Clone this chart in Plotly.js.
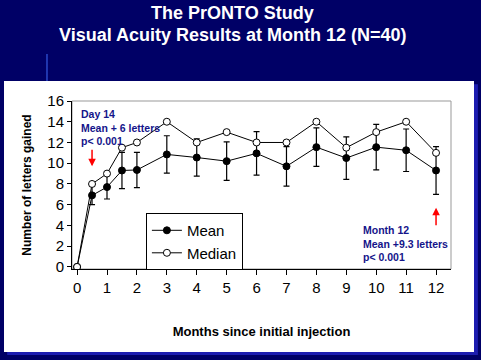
<!DOCTYPE html>
<html>
<head>
<meta charset="utf-8">
<script src="https://cdn.plot.ly/plotly-3.0.1.min.js"></script>
<style>html,body{margin:0;padding:0;background:#000066;}#chart{width:481px;height:360px;}</style>
</head>
<body>
<div id="chart"></div>
<script>
// Data
var months = [0, 0.5, 1, 1.5, 2, 3, 4, 5, 6, 7, 8, 9, 10, 11, 12];
var meanGain = [0, 6.9, 7.7, 9.3, 9.35, 10.85, 10.55, 10.2, 10.95, 9.7, 11.55, 10.5, 11.55, 11.25, 9.3];
var meanErr = [0, 0.9, 1.15, 1.75, 1.7, 1.8, 1.8, 1.85, 2.1, 1.9, 1.85, 2.05, 2.2, 2.05, 2.3];
var medianGain = [0, 8, 9, 11.5, 12, 14, 12, 13, 12, 12, 14, 11.5, 13, 14, 11];
var xTicks = [0, 1, 2, 3, 4, 5, 6, 7, 8, 9, 10, 11, 12];
var yTicks = [0, 2, 4, 6, 8, 10, 12, 14, 16];
var titleLines = ['The PrONTO Study', 'Visual Acuity Results at Month 12 (N=40)'];

var FONT = 'Liberation Sans, Arial, Helvetica, sans-serif';
var NAVY = '#14148a';

var traces = [
  {
    x: months, y: meanGain, name: 'Mean', type: 'scatter', mode: 'lines+markers',
    line: {color: '#000', width: 1},
    marker: {symbol: 'circle', size: 7, color: '#000', line: {color: '#000', width: 1}},
    error_y: {type: 'data', array: meanErr, visible: true, color: '#000', thickness: 1.2, width: 3}
  },
  {
    x: months, y: medianGain, name: 'Median', type: 'scatter', mode: 'lines+markers',
    line: {color: '#000', width: 1},
    marker: {symbol: 'circle', size: 7, color: '#fff', line: {color: '#000', width: 1}}
  }
];

var layout = {
  width: 481, height: 360,
  margin: {l: 72, r: 30, t: 101, b: 91},
  paper_bgcolor: '#000066',
  plot_bgcolor: '#ffffff',
  font: {family: FONT, color: '#000'},
  showlegend: true,
  xaxis: {
    range: [-0.17, 12.5], tickmode: 'array', tickvals: xTicks,
    ticks: 'outside', ticklen: 5, tickwidth: 1, tickcolor: '#000',
    showline: true, linecolor: '#000', linewidth: 1,
    showgrid: false, zeroline: false,
    tickfont: {family: FONT, size: 15, color: '#000'},
    title: {text: '<b>Months since initial injection</b>', font: {family: FONT, size: 13, color: '#000'}, standoff: 31}
  },
  yaxis: {
    range: [-0.2, 16], tickmode: 'array', tickvals: yTicks,
    ticks: 'outside', ticklen: 4, tickwidth: 1, tickcolor: '#000',
    showline: true, linecolor: '#000', linewidth: 1,
    showgrid: false, zeroline: false,
    tickfont: {family: FONT, size: 15, color: '#000'},
    title: {text: '<b>Number of letters gained</b>', font: {family: FONT, size: 12, color: '#000'}, standoff: 13}
  },
  legend: {
    x: 0.195, y: 0.333, xanchor: 'left', yanchor: 'top',
    bgcolor: '#fff', bordercolor: '#000', borderwidth: 1,
    font: {family: FONT, size: 15, color: '#000'},
    tracegroupgap: 0
  },
  shapes: [
    {type: 'rect', xref: 'paper', yref: 'paper', layer: 'below',
     x0: -0.171, x1: 1.071, y0: -0.512, y1: 1.10, fillcolor: '#1c1cb0', line: {width: 0}},
    {type: 'rect', xref: 'paper', yref: 'paper', layer: 'below',
     x0: -0.1794, x1: 1.0607, y0: -0.494, y1: 1.119, fillcolor: '#ffffff', line: {width: 0}},
    {type: 'line', xref: 'paper', yref: 'paper', layer: 'below',
     x0: -0.066, x1: -0.066, y0: 1.119, y1: 1.28, line: {color: '#2a48c8', width: 1.5}},
    {type: 'rect', xref: 'paper', yref: 'paper', layer: 'below',
     x0: 0, x1: 1, y0: 0, y1: 1, line: {color: '#999', width: 1}}
  ],
  annotations: [
    {xref: 'paper', yref: 'paper', x: 0.4248, y: 1.5238, xanchor: 'center', yanchor: 'middle',
     showarrow: false, text: '<b>' + titleLines[0] + '</b>',
     font: {family: FONT, size: 18, color: '#ffffff'}},
    {xref: 'paper', yref: 'paper', x: 0.4248, y: 1.3929, xanchor: 'center', yanchor: 'middle',
     showarrow: false, text: '<b>' + titleLines[1] + '</b>',
     font: {family: FONT, size: 18, color: '#ffffff'}},
    {xref: 'x', yref: 'y', x: 0.08, y: 15.55, xanchor: 'left', yanchor: 'top', align: 'left',
     showarrow: false, text: '<b>Day 14<br>Mean + 6 letters<br>p&lt; 0.001</b>',
     font: {family: FONT, size: 10.5, color: NAVY}},
    {xref: 'x', yref: 'y', x: 0.5, y: 9.7, showarrow: true, arrowhead: 2, arrowsize: 1, arrowwidth: 1.5,
     arrowcolor: '#ff0000', ax: 0, ay: -18, text: ''},
    {xref: 'x', yref: 'y', x: 9.5, y: 4.35, xanchor: 'left', yanchor: 'top', align: 'left',
     showarrow: false, text: '<b>Month 12<br>Mean +9.3 letters<br>p&lt; 0.001</b>',
     font: {family: FONT, size: 10.5, color: NAVY}},
    {xref: 'x', yref: 'y', x: 12, y: 5.7, showarrow: true, arrowhead: 2, arrowsize: 1, arrowwidth: 1.5,
     arrowcolor: '#ff0000', ax: 0, ay: 19, text: ''}
  ]
};

Plotly.newPlot('chart', traces, layout, {staticPlot: true, displayModeBar: false});
</script>
</body>
</html>
